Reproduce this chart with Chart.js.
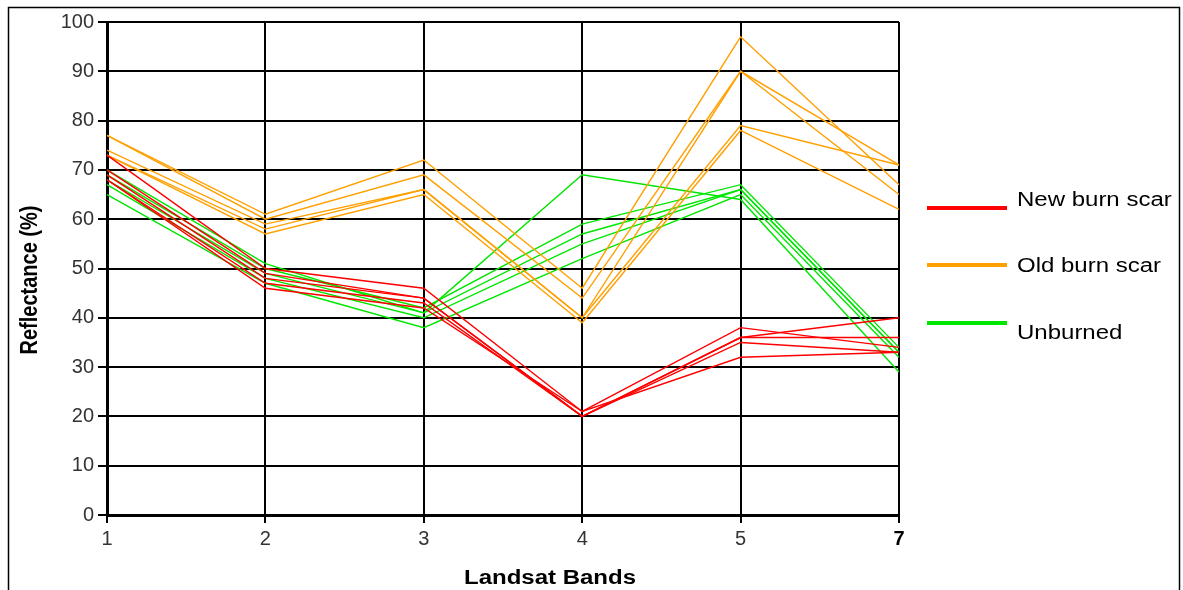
<!DOCTYPE html>
<html>
<head>
<meta charset="utf-8">
<script src="https://cdn.jsdelivr.net/npm/chart.js@4/dist/chart.umd.min.js"></script>
<style>
  body { margin: 0; background: #fff; }
  #wrap { width: 1183px; height: 590px; position: relative; }
</style>
</head>
<body>
<div id="wrap"><canvas id="chart" width="1183" height="590"></canvas></div>
<script>
// Landsat band categories
const bands = ['1', '2', '3', '4', '5', '7'];

// New burn scar samples
const newBurn1 = [73, 50, 46, 21, 38, 34];
const newBurn2 = [70, 49, 44, 20, 36, 40];
const newBurn3 = [69, 48, 44, 20, 36, 36];
const newBurn4 = [68, 47, 43, 20, 35, 33];
const newBurn5 = [68, 46, 42, 21, 32, 33];

// Old burn scar samples
const oldBurn1 = [77, 61, 72, 46, 97, 67];
const oldBurn2 = [77, 60, 69, 44, 90, 71];
const oldBurn3 = [74, 59, 66, 40, 90, 65];
const oldBurn4 = [73, 58, 66, 40, 79, 71];
const oldBurn5 = [73, 57, 65, 39, 78, 62];

// Unburned samples
const unburned1 = [70, 51, 41, 69, 64, 29];
const unburned2 = [69, 50, 42, 59, 67, 34];
const unburned3 = [68, 49, 41, 57, 66, 33];
const unburned4 = [67, 48, 40, 55, 66, 33];
const unburned5 = [65, 47, 38, 52, 65, 32];

const yTicks = [0, 10, 20, 30, 40, 50, 60, 70, 80, 90, 100];

const RED = 'rgb(255,0,0)';
const ORANGE = 'rgb(255,160,0)';
const GREEN = 'rgb(0,230,0)';

const groups = [
    { label: 'New burn scar', color: RED, series: [newBurn1, newBurn2, newBurn3, newBurn4, newBurn5], textY: 206 },
    { label: 'Old burn scar', color: ORANGE, series: [oldBurn1, oldBurn2, oldBurn3, oldBurn4, oldBurn5], textY: 272 },
    { label: 'Unburned', color: GREEN, series: [unburned1, unburned2, unburned3, unburned4, unburned5], textY: 339 }
];
const legendLineY = [208, 265, 323];

const datasets = [];
groups.forEach(g => {
    g.series.forEach(values => {
        datasets.push({
            label: g.label,
            data: values,
            borderColor: g.color,
            backgroundColor: g.color,
            borderWidth: 1.4,
            pointRadius: 0,
            tension: 0,
            fill: false
        });
    });
});

// titles, legend and outer frame
const decorations = {
    id: 'decorations',
    afterDraw(chart) {
        const ctx = chart.ctx;
        ctx.save();
        ctx.strokeStyle = '#000';
        ctx.lineWidth = 1.5;
        ctx.strokeRect(8.5, 7.5, 1171, 600);

        ctx.fillStyle = '#000';
        ctx.font = 'bold 20px "Liberation Sans", Arial, sans-serif';

        // x title
        ctx.save();
        ctx.translate(550, 578);
        ctx.scale(1.2, 1);
        ctx.textAlign = 'center';
        ctx.textBaseline = 'middle';
        ctx.fillText('Landsat Bands', 0, 0);
        ctx.restore();

        // y title
        ctx.save();
        ctx.translate(30, 280);
        ctx.rotate(-Math.PI / 2);
        ctx.scale(1, 1.2);
        ctx.textAlign = 'center';
        ctx.textBaseline = 'middle';
        ctx.fillText('Reflectance (%)', 0, 0);
        ctx.restore();

        // legend
        ctx.font = '20px "Liberation Sans", Arial, sans-serif';
        groups.forEach((g, i) => {
            ctx.strokeStyle = g.color;
            ctx.lineWidth = 4;
            ctx.beginPath();
            ctx.moveTo(927, legendLineY[i]);
            ctx.lineTo(1007, legendLineY[i]);
            ctx.stroke();
            ctx.save();
            ctx.translate(1017, g.textY);
            ctx.scale(1.2, 1);
            ctx.textAlign = 'left';
            ctx.textBaseline = 'alphabetic';
            ctx.fillStyle = '#000';
            ctx.fillText(g.label, 0, 0);
            ctx.restore();
        });
        ctx.restore();
    }
};

new Chart(document.getElementById('chart'), {
    type: 'line',
    data: { labels: bands, datasets: datasets },
    options: {
        responsive: false,
        animation: false,
        layout: { padding: { top: 22, right: 284, left: 0, bottom: 0 } },
        plugins: {
            legend: { display: false },
            tooltip: { enabled: false }
        },
        scales: {
            x: {
                offset: false,
                afterFit: s => { s.height = 75; },
                grid: { color: '#000', lineWidth: 2, drawTicks: true, tickLength: 8 },
                border: { color: '#000', width: 3 },
                ticks: {
                    padding: 4,
                    maxRotation: 0,
                    color: c => c.index === 5 ? '#000' : '#333',
                    font: c => c.index === 5
                        ? { family: '"Liberation Sans", Arial, sans-serif', size: 20, weight: 'bold' }
                        : { family: '"Liberation Sans", Arial, sans-serif', size: 20 }
                }
            },
            y: {
                min: 0,
                max: 100,
                afterFit: s => { s.width = 107; },
                afterBuildTicks: s => { s.ticks = yTicks.map(v => ({ value: v })); },
                grid: { color: '#000', lineWidth: 2, drawTicks: true, tickLength: 9 },
                border: { color: '#000', width: 3 },
                ticks: {
                    padding: 4,
                    color: '#333',
                    font: { family: '"Liberation Sans", Arial, sans-serif', size: 20 }
                }
            }
        }
    },
    plugins: [decorations]
});
</script>
</body>
</html>
